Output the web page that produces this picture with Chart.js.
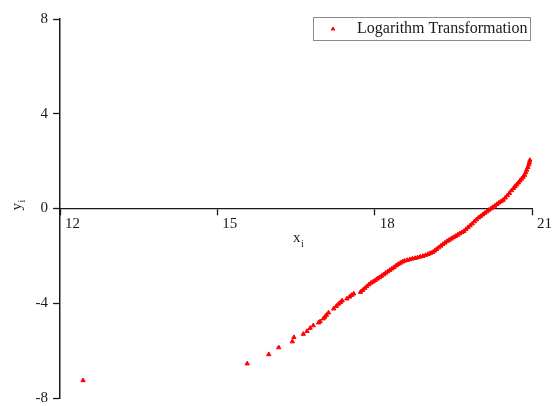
<!DOCTYPE html>
<html>
<head>
<meta charset="utf-8">
<script src="https://cdn.jsdelivr.net/npm/chart.js@4.4.1/dist/chart.umd.min.js"></script>
<style>
    html, body { margin: 0; padding: 0; background: #ffffff; }
    #wrap { width: 552px; height: 406px; }
</style>
</head>
<body>
<div id="wrap"><canvas id="qqChart" width="552" height="406"></canvas></div>
<script>
// values
const seriesLabel = "Logarithm Transformation";
const xTicks = [12, 15, 18, 21];
const yTicks = [-8, -4, 0, 4, 8];

const xValues = [
    12.44, 15.57, 15.98, 16.17, 16.43, 16.46, 16.64, 16.71, 16.77, 16.83,
    16.93, 16.96, 17.02, 17.05, 17.08, 17.12, 17.22, 17.27, 17.31, 17.35,
    17.38, 17.47, 17.52, 17.56, 17.60, 17.73, 17.77, 17.81, 17.85, 17.89,
    17.93, 17.97, 18.01, 18.05, 18.09, 18.13, 18.17, 18.21, 18.25, 18.29,
    18.33, 18.37, 18.41, 18.45, 18.49, 18.53, 18.57, 18.62, 18.67, 18.72,
    18.77, 18.82, 18.87, 18.92, 18.97, 19.02, 19.06, 19.10, 19.14, 19.18,
    19.22, 19.26, 19.30, 19.34, 19.38, 19.42, 19.46, 19.50, 19.54, 19.58,
    19.62, 19.66, 19.70, 19.74, 19.78, 19.82, 19.86, 19.90, 19.94, 19.98,
    20.02, 20.06, 20.10, 20.14, 20.18, 20.22, 20.25, 20.29, 20.33, 20.37,
    20.41, 20.45, 20.49, 20.53, 20.57, 20.61, 20.65, 20.68, 20.71, 20.74,
    20.77, 20.80, 20.83, 20.86, 20.88, 20.90, 20.92, 20.94, 20.95, 20.96
];
const yValues = [
    -7.26, -6.55, -6.16, -5.87, -5.62, -5.44, -5.30, -5.18, -5.05, -4.94,
    -4.82, -4.77, -4.65, -4.58, -4.50, -4.40, -4.23, -4.12, -4.03, -3.96,
    -3.89, -3.81, -3.73, -3.66, -3.60, -3.53, -3.45, -3.37, -3.29, -3.21,
    -3.14, -3.09, -3.03, -2.97, -2.91, -2.85, -2.79, -2.72, -2.66, -2.60,
    -2.54, -2.48, -2.41, -2.35, -2.30, -2.25, -2.21, -2.18, -2.15, -2.12,
    -2.10, -2.07, -2.04, -2.01, -1.97, -1.93, -1.89, -1.85, -1.79, -1.72,
    -1.65, -1.58, -1.51, -1.45, -1.38, -1.33, -1.28, -1.22, -1.17, -1.12,
    -1.06, -1.01, -0.96, -0.88, -0.80, -0.72, -0.64, -0.55, -0.47, -0.39,
    -0.33, -0.26, -0.19, -0.13, -0.06, 0.00, 0.05, 0.11, 0.18, 0.24,
    0.30, 0.36, 0.45, 0.55, 0.65, 0.76, 0.86, 0.94, 1.01, 1.09,
    1.17, 1.25, 1.33, 1.41, 1.52, 1.63, 1.74, 1.85, 1.95, 2.04
];

const points = xValues.map((v, i) => ({ x: v, y: yValues[i] }));
const serif = "'Liberation Serif', 'Times New Roman', serif";
const ink = "#1a1a1a";
const red = "#ff0000";

// drop the label overflow padding so the layout padding alone sets the plot box
function noOverflow(scale) {
    scale.paddingTop = 0;
    scale.paddingBottom = 0;
    scale.paddingLeft = 0;
    scale.paddingRight = 0;
}

// axis titles with subscripts + boxed legend
const extras = {
    id: "extras",
    afterDraw(chart) {
        const ctx = chart.ctx;
        const area = chart.chartArea;
        const zeroY = chart.scales.y.getPixelForValue(0);
        ctx.save();
        ctx.fillStyle = ink;
        ctx.textBaseline = "alphabetic";

        // x title below the crossing axis
        const tx = (area.left + area.right) / 2 + 1;
        ctx.font = "15px " + serif;
        ctx.textAlign = "left";
        ctx.fillText("x", tx - 4, zeroY + 33);
        ctx.font = "10px " + serif;
        ctx.fillText("i", tx + 4, zeroY + 38);

        // y title, rotated
        ctx.translate(21, zeroY + 2);
        ctx.rotate(-Math.PI / 2);
        ctx.font = "15px " + serif;
        ctx.fillText("y", 0, 0);
        ctx.font = "10px " + serif;
        ctx.fillText("i", 8, 4);
        ctx.restore();

        // legend box
        ctx.save();
        const bx = area.right - 219, by = 17, bw = 217, bh = 23;
        ctx.strokeStyle = "#8c8c8c";
        ctx.lineWidth = 1;
        ctx.strokeRect(bx + 0.5, by + 0.5, bw, bh);
        ctx.fillStyle = red;
        ctx.strokeStyle = red;
        Chart.helpers.drawPoint(ctx, { pointStyle: "triangle", radius: 2, borderWidth: 1 }, bx + 20, by + 12);
        ctx.fillStyle = ink;
        ctx.font = "16px " + serif;
        ctx.textAlign = "left";
        ctx.textBaseline = "middle";
        ctx.fillText(seriesLabel, bx + 44, by + 12);
        ctx.restore();
    }
};

const ctx = document.getElementById("qqChart").getContext("2d");
new Chart(ctx, {
    type: "scatter",
    data: {
        datasets: [{
            label: seriesLabel,
            data: points,
            pointStyle: "triangle",
            pointRadius: 2.5,
            pointBorderWidth: 1,
            backgroundColor: red,
            borderColor: red
        }]
    },
    options: {
        responsive: false,
        animation: false,
        layout: { padding: { top: 19, bottom: 8, right: 20, left: 0 } },
        plugins: {
            legend: { display: false },
            tooltip: { enabled: false }
        },
        scales: {
            x: {
                type: "linear",
                position: { y: 0 },
                min: 12,
                max: 21,
                afterBuildTicks: scale => { scale.ticks = xTicks.map(v => ({ value: v })); },
                afterFit: noOverflow,
                grid: { drawOnChartArea: false, drawTicks: true, tickLength: 6, tickColor: ink, tickWidth: 1.3 },
                border: { display: true, color: ink, width: 1.3 },
                ticks: {
                    color: ink,
                    font: { family: serif, size: 15 },
                    align: "start",
                    labelOffset: 5,
                    padding: 1,
                    maxRotation: 0
                }
            },
            y: {
                type: "linear",
                position: "left",
                min: -8,
                max: 8,
                afterBuildTicks: scale => { scale.ticks = yTicks.map(v => ({ value: v })); },
                afterFit: scale => { scale.width = 60; noOverflow(scale); },
                grid: { drawOnChartArea: false, drawTicks: true, tickLength: 7, tickColor: ink, tickWidth: 1.3 },
                border: { display: true, color: ink, width: 1.5 },
                ticks: {
                    color: ink,
                    font: { family: serif, size: 15 },
                    padding: 5
                }
            }
        }
    },
    plugins: [extras]
});
</script>
</body>
</html>
